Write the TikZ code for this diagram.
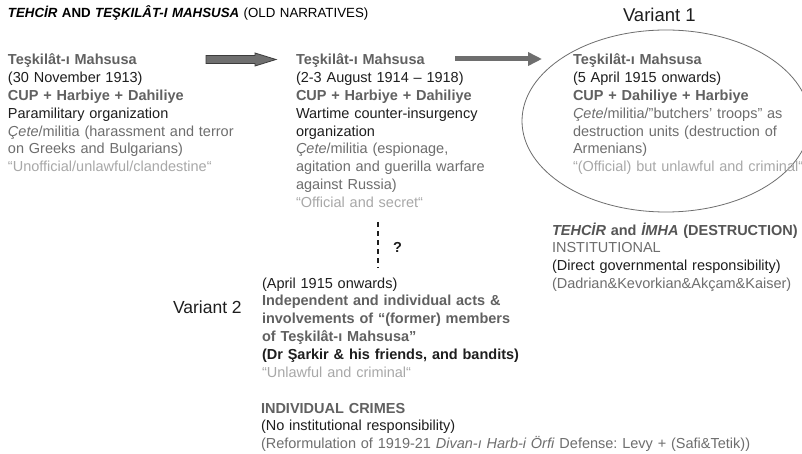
\documentclass[tikz,border=0pt]{standalone}
\usepackage{fontspec}
\setmainfont{Liberation Sans}
\usetikzlibrary{arrows.meta}
\definecolor{dk}{HTML}{1E1E1E}
\definecolor{gb}{HTML}{616161}
\definecolor{gr}{HTML}{6E6E6E}
\definecolor{lt}{HTML}{A8A8A8}
\definecolor{ttl}{HTML}{555555}
\definecolor{arrfill}{HTML}{6F6F6F}
\definecolor{arrline}{HTML}{3C3C3C}
\frenchspacing
\tikzset{
  txt/.style={anchor=base west, inner sep=0pt, outer sep=0pt, text width=#1, align=left,
              font=\fontsize{14.5pt}{17.8pt}\selectfont\frenchspacing, text=dk},
  varlabel/.style={anchor=base west, inner sep=0pt, outer sep=0pt, text=dk},
}
\begin{document}
\begin{tikzpicture}[x=1pt,y=-1pt]
\useasboundingbox (0,0) rectangle (802,454);
\fill[white] (0,0) rectangle (802,454);

% title
\node[txt=600pt, text=black, font=\fontsize{13.3pt}{16pt}\selectfont] (title) at (8,17.5)
  {\textbf{\textit{TEHCİR}} \textbf{AND} \textbf{\textit{TEŞKILÂT-I MAHSUSA}} (OLD NARRATIVES)};

% column 1
\node[txt=285pt] (c1) at (8,65)
  {\textcolor{gb}{\textbf{Teşkilât-ı Mahsusa}}\\
   (30 November 1913)\\
   \textcolor{gb}{\textbf{CUP + Harbiye + Dahiliye}}\\
   Paramilitary organization\\
   \textcolor{gr}{\textit{Çete}/militia (harassment and terror}\\
   \textcolor{gr}{on Greeks and Bulgarians)}\\
   \textcolor{lt}{“Unofficial/unlawful/clandestine“}};

% column 2
\node[txt=270pt] (c2) at (296,65)
  {\textcolor{gb}{\textbf{Teşkilât-ı Mahsusa}}\\
   (2-3 August 1914 – 1918)\\
   \textcolor{gb}{\textbf{CUP + Harbiye + Dahiliye}}\\
   Wartime counter-insurgency\\
   organization\\
   \textcolor{gr}{\textit{Çete}/militia (espionage,}\\
   \textcolor{gr}{agitation and guerilla warfare}\\
   \textcolor{gr}{against Russia)}\\
   \textcolor{lt}{“Official and secret“}};

% column 3 (variant 1)
\draw[gr, line width=0.8pt] (666,121) ellipse [x radius=144pt, y radius=91pt];
\node[txt=240pt] (c3) at (573,65)
  {\textcolor{gb}{\textbf{Teşkilât-ı Mahsusa}}\\
   (5 April 1915 onwards)\\
   \textcolor{gb}{\textbf{CUP + Dahiliye + Harbiye}}\\
   \textcolor{gr}{\textit{Çete}/militia/”butchers’ troops” as}\\
   \textcolor{gr}{destruction units (destruction of}\\
   \textcolor{gr}{Armenians)}\\
   \textcolor{lt}{“(Official) but unlawful and criminal“}};

\node[varlabel, font=\fontsize{18.5pt}{20pt}\selectfont] (v1) at (623,22) {Variant 1};

% right block
\node[txt=260pt] (r1) at (552,235)
  {\textcolor{ttl}{\textbf{\textit{TEHCİR} and \textit{İMHA} (DESTRUCTION)}}\\
   \textcolor{gr}{INSTITUTIONAL}\\
   (Direct governmental responsibility)\\
   \textcolor{gr}{(Dadrian\&Kevorkian\&Akçam\&Kaiser)}};

% variant 2
\node[varlabel, font=\fontsize{17.5pt}{19pt}\selectfont] (v2) at (173,313) {Variant 2};
\node[txt=290pt] (c4) at (262,288)
  {(April 1915 onwards)\\
   \textcolor{gb}{\textbf{Independent and individual acts \&}}\\
   \textcolor{gb}{\textbf{involvements of “(former) members}}\\
   \textcolor{gb}{\textbf{of Teşkilât-ı Mahsusa”}}\\
   \textbf{(Dr Şarkir \& his friends, and bandits)}\\
   \textcolor{lt}{“Unlawful and criminal“}};

% bottom block
\node[txt=540pt] (c5) at (261,413)
  {\textcolor{gb}{\textbf{INDIVIDUAL CRIMES}}\\
   (No institutional responsibility)\\
   \textcolor{gr}{(Reformulation of 1919-21 \textit{Divan-ı Harb-i Örfi} Defense: Levy + (Safi\&Tetik))}};

% connectors
\coordinate (a1s) at (206,59.5);
\coordinate (a2s) at (455,59);
\coordinate (a2e) at (542,59);
\coordinate (dtop) at (378,222);
\coordinate (dbot) at (378,268);

\draw[arrline, fill=arrfill, line width=0.8pt, line join=miter]
  (a1s) ++(0,-4) -- ++(49,0) -- ++(0,-2.5) -- ++(21,6.5) -- ++(-21,6.5) -- ++(0,-2.5) -- ++(-49,0) -- cycle;

\draw[gr, line width=5pt, -{Triangle[length=14pt,width=13pt]}] (a2s) -- (a2e);

\draw[dk, line width=2pt, dash pattern=on 5pt off 4pt] (dtop) -- (dbot);
\node[varlabel, font=\fontsize{14.5pt}{17.8pt}\selectfont\bfseries] (q) at (393,252) {?};

\end{tikzpicture}
\end{document}
